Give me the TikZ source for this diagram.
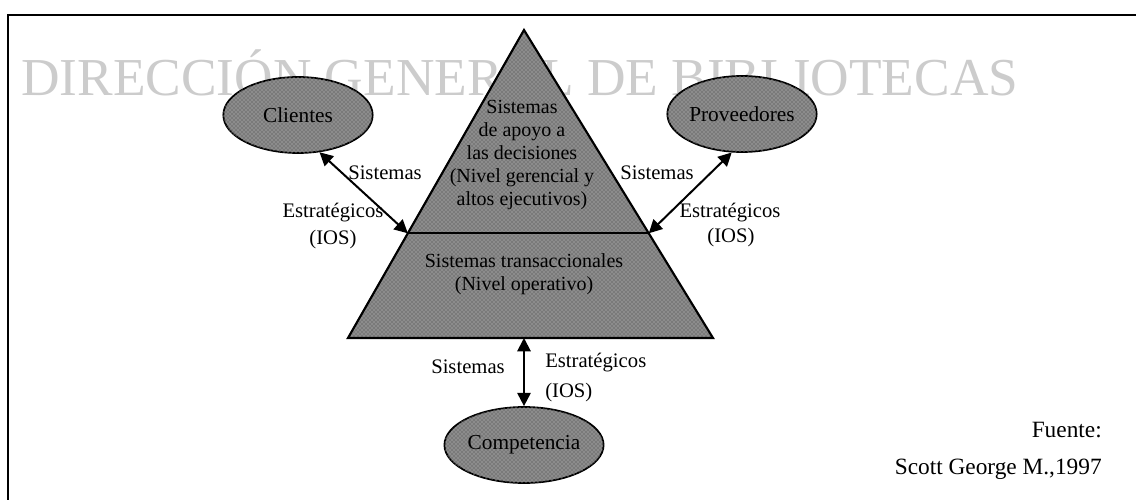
\documentclass[tikz,border=0pt]{standalone}
\usepackage{fontspec}
\setmainfont{Liberation Serif}
\usetikzlibrary{arrows.meta,shapes.geometric,patterns,calc}
\begin{document}
\begin{tikzpicture}[x=0.75pt,y=-0.75pt,
  stip/.style={fill=black!52, postaction={pattern=crosshatch dots, pattern color=black!20}},
  oval/.style={ellipse, draw, line width=1.3pt, stip, minimum width=112pt, minimum height=57pt,
    font=\fontsize{16}{18}\selectfont, inner sep=0pt},
  lbl/.style={font=\fontsize{15.5}{17}\selectfont, inner sep=0pt},
  tritext/.style={align=center, font=\fontsize{15}{17.25}\selectfont, inner sep=0pt},
  src/.style={font=\fontsize{17.5}{20}\selectfont, inner sep=0pt, anchor=east},
  link/.style={line width=1.5pt, {Triangle[length=10pt,width=10pt]}-{Triangle[length=10pt,width=10pt]}},
]
\useasboundingbox (0,0) rectangle (1136,500);
\fill[white] (0,0) rectangle (1136,500);
% watermark
\node[anchor=base west, text=black!20, font=\fontsize{40}{40}\selectfont, inner sep=0pt] (wm) at (21,95) {DIRECCIÓN GENERAL DE BIBLIOTECAS};
% frame
\draw[line width=1.5pt] (8,500) -- (8,15) -- (1136,15);
% pyramid
\coordinate (A) at (524,30);
\coordinate (BL) at (348,338);
\coordinate (BR) at (713,338);
\coordinate (L) at ($(A)!0.66!(BL)$);
\coordinate (R) at ($(A)!0.66!(BR)$);
\coordinate (B) at (524,338);
\path[stip] (A) -- (BL) -- (BR) -- cycle;
\draw[line width=1.6pt, line join=miter] (A) -- (BL) -- (BR) -- cycle;
\draw[line width=1.6pt] (L) -- (R);
\node[tritext] (upper) at (522,155) {Sistemas\\de apoyo a\\las decisiones\\(Nivel gerencial y\\altos ejecutivos)};
\node[tritext] (lower) at (524,274) {Sistemas transaccionales\\(Nivel operativo)};
% ovals
\node[oval] (cli) at (298,115) {Clientes};
\node[oval] (prov) at (742,114) {Proveedores};
\node[oval, minimum width=117pt] (comp) at (524,445) {Competencia};
% connectors
\draw[link] (cli.-60) -- (L);
\draw[link] (prov.-105) -- (R);
\draw[link] (B) -- (comp.north);
% labels
\node[lbl] (ls) at (385,173) {Sistemas};
\node[lbl] (le) at (333,213) {Estratégicos};
\node[lbl] (li) at (333,240) {(IOS)};
\node[lbl] (rs) at (657,173) {Sistemas};
\node[lbl] (re) at (730,213) {Estratégicos};
\node[lbl] (ri) at (731,238) {(IOS)};
\node[lbl] (bs) at (468,367) {Sistemas};
\node[lbl, anchor=west] (be) at (545,363) {Estratégicos};
\node[lbl, anchor=west] (bi) at (545,393) {(IOS)};
% source
\node[src] (f1) at (1102,430) {Fuente:};
\node[src] (f2) at (1102,469) {Scott George M.,1997};
\end{tikzpicture}
\end{document}
